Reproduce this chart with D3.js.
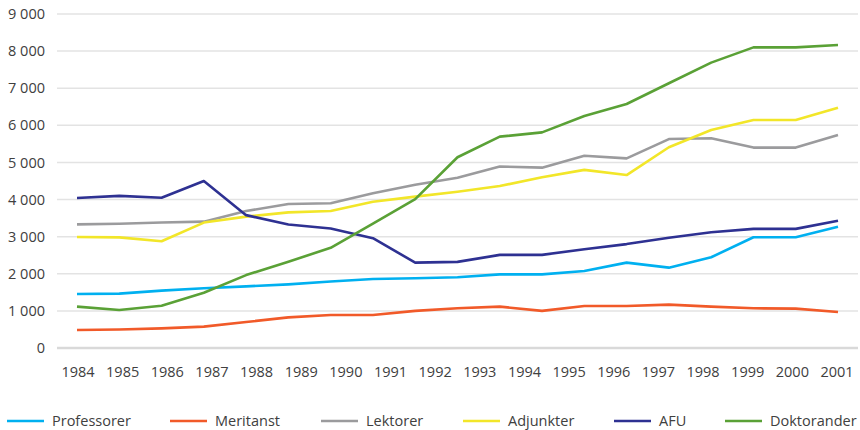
<!DOCTYPE html>
<html>
<head>
<meta charset="utf-8">
<script src="https://cdn.jsdelivr.net/npm/d3@7"></script>
<style>
  body { margin: 0; background: #fff; }
  text { font-family: "Open Sans", sans-serif; fill: #404040; }
</style>
</head>
<body>
<script>

var years = ["1984","1985","1986","1987","1988","1989","1990","1991","1992",
             "1993","1994","1995","1996","1997","1998","1999","2000","2001"];
var yTicks = [0, 1000, 2000, 3000, 4000, 5000, 6000, 7000, 8000, 9000];

var names = ["Professorer", "Meritanst", "Lektorer", "Adjunkter", "AFU", "Doktorander"];
var colors = ["#00b0f0", "#f15a29", "#9b9b9d", "#f2e629", "#2e3192", "#5aa136"];

// 19 observations per series (one more than the year labels)
var professorer = [1455,1465,1545,1610,1660,1715,1790,1860,1880,1905,1985,1985,2075,2300,2165,2445,2985,2985,3270];
var meritanst   = [485,500,530,575,700,825,890,890,1000,1070,1115,1000,1130,1130,1170,1115,1070,1060,970];
var lektorer    = [3330,3350,3380,3405,3690,3880,3900,4170,4400,4590,4890,4860,5180,5110,5630,5650,5400,5400,5740];
var adjunkter   = [2990,2980,2875,3380,3540,3655,3690,3940,4080,4210,4365,4600,4800,4660,5410,5875,6145,6145,6475];
var afu         = [4040,4100,4050,4500,3580,3330,3220,2960,2300,2320,2510,2510,2660,2800,2970,3120,3210,3210,3430];
var doktorander = [1115,1025,1140,1490,1965,2325,2700,3350,4010,5140,5695,5810,6250,6575,7135,7690,8100,8100,8165];

var series = [professorer, meritanst, lektorer, adjunkter, afu, doktorander];

var width = 860, height = 430;
var margin = {top: 14, right: 2, bottom: 82, left: 57};

var svg = d3.select("body").append("svg")
    .attr("width", width)
    .attr("height", height);

var yScale = d3.scaleLinear().domain([0, 9000]).range([348, 14]);
var xScale = d3.scaleLinear().domain([0, professorer.length - 1]).range([77, 838]);
var labelScale = d3.scalePoint().domain(years).range([78, 837]);

var fmt = function(d) { return d3.format(",")(d).replace(",", " "); };

// gridlines
svg.append("g")
    .selectAll("line")
    .data(yTicks)
    .enter().append("line")
    .attr("x1", margin.left)
    .attr("x2", width - margin.right)
    .attr("y1", function(d) { return yScale(d); })
    .attr("y2", function(d) { return yScale(d); })
    .attr("stroke", function(d) { return d === 0 ? "#d9d9d9" : "#e3e3e3"; })
    .attr("stroke-width", function(d) { return d === 0 ? 2.5 : 1.5; });

// y labels
svg.append("g")
    .selectAll("text")
    .data(yTicks)
    .enter().append("text")
    .attr("x", 45)
    .attr("y", function(d) { return yScale(d); })
    .attr("dy", "0.35em")
    .attr("font-size", "14.5px")
    .style("text-anchor", "end")
    .text(fmt);

// x labels
svg.append("g")
    .selectAll("text")
    .data(years)
    .enter().append("text")
    .attr("x", function(d) { return labelScale(d); })
    .attr("y", 377)
    .attr("font-size", "14.5px")
    .style("text-anchor", "middle")
    .text(function(d) { return d; });

var line = d3.line()
    .x(function(d, i) { return xScale(i); })
    .y(function(d) { return yScale(d); });

series.forEach(function(s, k) {
  svg.append("path")
      .datum(s)
      .attr("d", line)
      .attr("fill", "none")
      .attr("stroke", colors[k])
      .attr("stroke-width", 2.6)
      .attr("stroke-linejoin", "round");
});

// legend
var legendX = [7, 170, 321, 463, 614, 725];
var legend = svg.append("g")
    .selectAll("g")
    .data(names)
    .enter().append("g")
    .attr("transform", function(d, i) { return "translate(" + legendX[i] + ",421)"; });

legend.append("line")
    .attr("x1", 0).attr("x2", 37)
    .attr("y1", 0).attr("y2", 0)
    .attr("stroke", function(d, i) { return colors[i]; })
    .attr("stroke-width", 2.6);

legend.append("text")
    .attr("x", 45)
    .attr("dy", "0.35em")
    .attr("font-size", "14.5px")
    .text(function(d) { return d; });

</script>
</body>
</html>
